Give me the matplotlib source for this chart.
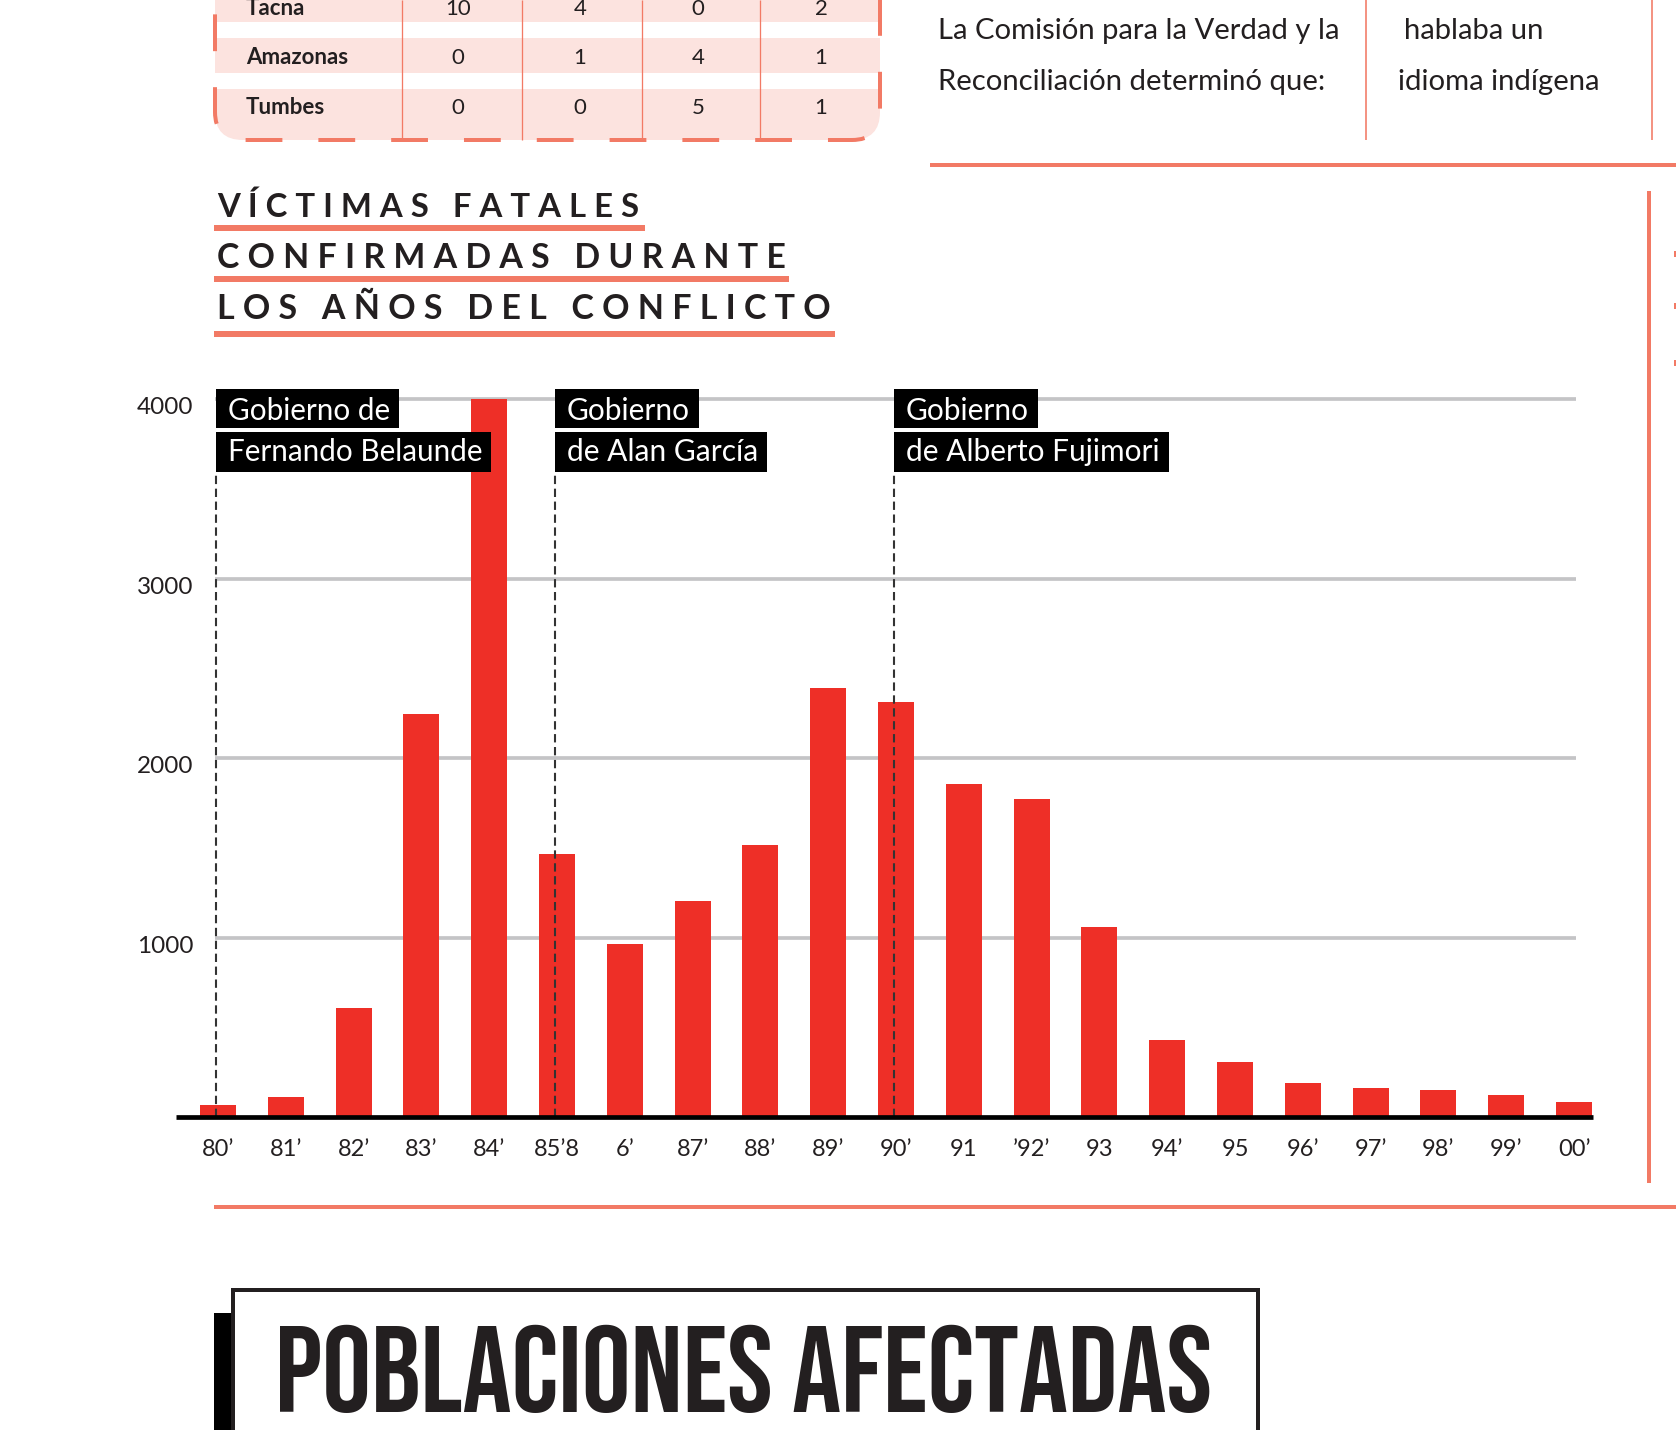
import os
import matplotlib
matplotlib.use("Agg")
import matplotlib.pyplot as plt
from matplotlib import font_manager as fm
from matplotlib.patches import Rectangle, FancyBboxPatch
from matplotlib.lines import Line2D
from matplotlib.transforms import Affine2D, ScaledTranslation

# ---------------- data ----------------
years = ["80’", "81’", "82’", "83’", "84’", "85’8", "6’", "87’", "88’", "89’", "90’",
         "91", "’92’", "93", "94’", "95", "96’", "97’", "98’", "99’", "00’"]
victims = [67, 113, 607, 2243, 4000, 1464, 964, 1205, 1515, 2390, 2313,
           1857, 1774, 1059, 429, 308, 188, 159, 153, 125, 84]
ytick_vals = [1000, 2000, 3000, 4000]
ytick_labels = ["1000", "2000", "3000", "4000"]
gov_labels = [["Gobierno de", "Fernando Belaunde"],
              ["Gobierno", "de Alan García"],
              ["Gobierno", "de Alberto Fujimori"]]
gov_start = [0, 5, 10]
title_lines = ["VÍCTIMAS FATALES", "CONFIRMADAS DURANTE", "LOS AÑOS DEL CONFLICTO"]
table_rows = ["Tacna", "Amazonas", "Tumbes"]
table_vals = [[10, 4, 0, 2], [0, 1, 4, 1], [0, 0, 5, 1]]
intro_left = ["La Comisión para la Verdad y la", "Reconciliación determinó que:"]
intro_right = ["hablaba un", "idioma indígena"]
section_title = "POBLACIONES AFECTADAS"

# ---------------- style ----------------
W, H, DPI = 1676, 1430, 100
RED = "#EE2F27"
SALMON = "#F27A65"
PINK = "#FCE3DF"
GRID = "#C4C4C6"
DARK = "#231F20"

files = {os.path.basename(f.fname).lower(): f.fname for f in fm.fontManager.ttflist}


def find_font(names):
    for n in names:
        if n.lower() in files:
            return files[n.lower()]
    return None


cond_bold = find_font(["Oswald-Bold.ttf", "BebasNeue-Regular.ttf", "Anton-Regular.ttf",
                       "NotoSans-ExtraCondensedBold.ttf", "NotoSans-CondensedBold.ttf",
                       "LiberationSansNarrow-Bold.ttf", "DejaVuSansCondensed-Bold.ttf"])

fig = plt.figure(figsize=(W / DPI, H / DPI), dpi=DPI)
fig.patch.set_facecolor("white")
R = fig.canvas.get_renderer()
PX = Affine2D().scale(1.0 / W, -1.0 / H).translate(0, 1) + fig.transFigure


def fit_width(t, target, maxsize=None):
    w = t.get_window_extent(renderer=R).width
    s = t.get_fontsize() * target / w
    if maxsize is not None:
        s = min(s, maxsize)
    t.set_fontsize(s)
    return s


def hline(x0, x1, y, lw_px, color):
    fig.add_artist(Line2D([x0, x1], [y, y], transform=PX, color=color,
                          lw=lw_px * 72 / DPI, solid_capstyle="butt"))


def vline(x, y0, y1, lw_px, color):
    fig.add_artist(Line2D([x, x], [y0, y1], transform=PX, color=color,
                          lw=lw_px * 72 / DPI, solid_capstyle="butt"))


# ---------------- top table fragment ----------------
fig.add_artist(FancyBboxPatch((215, -90), 665, 230, boxstyle="round,pad=0,rounding_size=28",
                              transform=PX, fc=PINK, ec="none", zorder=1))
for y0, y1 in [(22, 38), (73, 89)]:
    fig.add_artist(Rectangle((212, y0), 672, y1 - y0, transform=PX, fc="white", ec="none", zorder=2))
fig.add_artist(FancyBboxPatch((215, -90), 665, 230, boxstyle="round,pad=0,rounding_size=28",
                              transform=PX, fc="none", ec=SALMON, lw=4 * 72 / DPI,
                              linestyle=(0, (9.2, 9.0)), zorder=3))
for xd in [402, 521.5, 642, 759.5]:
    vline(xd, 0, 140, 1.3, SALMON)
row_base = [15, 64, 114]
col_x = [458, 580, 698, 821]
for r, name in enumerate(table_rows):
    fig.text(246, row_base[r], name, transform=PX, fontfamily="Lato", fontweight="bold",
             fontsize=16, color=DARK, va="baseline", ha="left", zorder=4)
    for c, v in enumerate(table_vals[r]):
        fig.text(col_x[c], row_base[r], str(v), transform=PX, fontfamily="Lato",
                 fontsize=16, color=DARK, va="baseline", ha="center", zorder=4)

# ---------------- intro text (top right) ----------------
vline(1366, 0, 140, 1.6, SALMON)
vline(1652, 0, 140, 1.6, SALMON)
hline(930, W, 165, 4, SALMON)
t1 = fig.text(938, 39, intro_left[0], transform=PX, fontfamily="Lato", fontsize=20,
              color=DARK, va="baseline", ha="left")
s_intro = fit_width(t1, 402, maxsize=22)
fig.text(938, 90, intro_left[1], transform=PX, fontfamily="Lato", fontsize=s_intro,
         color=DARK, va="baseline", ha="left")
fig.text(1404, 39, intro_right[0], transform=PX, fontfamily="Lato", fontsize=s_intro,
         color=DARK, va="baseline", ha="left")
fig.text(1398, 90, intro_right[1], transform=PX, fontfamily="Lato", fontsize=s_intro,
         color=DARK, va="baseline", ha="left")

# ---------------- right border ----------------
vline(1649, 191, 1183, 4, SALMON)
for ym in [254, 306, 363]:
    fig.add_artist(Rectangle((1674, ym - 3), 2, 6, transform=PX, fc=SALMON, ec="none"))

# ---------------- chart title ----------------
title_base = [217, 268, 319]
title_end = [639, 786, 833]
under_y = [228, 279, 334]
under_end = [645, 789, 835]
for i, line in enumerate(title_lines):
    spaced = "   ".join(" ".join(list(w)) for w in line.split(" "))
    t = fig.text(217, title_base[i], spaced, transform=PX, fontfamily="Lato",
                 fontweight="bold", fontsize=24, color=DARK, va="baseline", ha="left")
    fit_width(t, title_end[i] - 217, maxsize=27)
    hline(214, under_end[i], under_y[i], 6, SALMON)

# ---------------- main chart ----------------
x0_px, dx_px = 218.0, 67.8
zero_px, ppu = 1117.0, (1117.0 - 399.0) / 4000.0
ax_l, ax_r, ax_t, ax_b = 200.0, 1593.0, 340.0, 1117.0
ax = fig.add_axes([ax_l / W, 1 - ax_b / H, (ax_r - ax_l) / W, (ax_b - ax_t) / H])
ax.set_facecolor("none")
ax.set_xlim((ax_l - x0_px) / dx_px, (ax_r - x0_px) / dx_px)
ax.set_ylim(0, (zero_px - ax_t) / ppu)
for sp in ax.spines.values():
    sp.set_visible(False)

xs = list(range(len(years)))
ax.hlines(ytick_vals, (215 - x0_px) / dx_px, (1576 - x0_px) / dx_px, colors=GRID,
          lw=3.7 * 72 / DPI, zorder=1)
ax.bar(xs, victims, width=0.53, color=RED, zorder=2)
ax.plot([(176 - x0_px) / dx_px, (1593 - x0_px) / dx_px], [0, 0], color="black",
        lw=4.7 * 72 / DPI, solid_capstyle="butt", clip_on=False, zorder=4)

ax.set_xticks(xs)
ax.set_xticklabels(years, fontfamily="Lato", fontsize=17, color=DARK)
ax.set_yticks(ytick_vals)
ax.set_yticklabels(ytick_labels, fontfamily="Lato", fontsize=17.5, color=DARK)
ax.tick_params(axis="x", length=0, pad=15.5)
ax.tick_params(axis="y", length=0, pad=5)
yoff = ScaledTranslation(0, -5.0 / 72, fig.dpi_scale_trans)
for lbl in ax.get_yticklabels():
    lbl.set_transform(lbl.get_transform() + yoff)

dash_top_val = (zero_px - 472) / ppu
for gi, idx in enumerate(gov_start):
    xd = idx - 0.03
    ax.plot([xd, xd], [0, dash_top_val], color="#333333", lw=1.5,
            linestyle=(0, (4.0, 2.2)), zorder=3)
    box_l = x0_px + dx_px * xd
    lines = gov_labels[gi]
    texts = []
    for li, s in enumerate(lines):
        tt = fig.text(box_l + 12, [420, 461][li], s, transform=PX, fontfamily="Lato",
                      fontsize=21.5, color="white", va="baseline", ha="left", zorder=6)
        texts.append(tt)
    target = [255, 192, 259][gi]
    wmax = max(t.get_window_extent(renderer=R).width for t in texts)
    size = min(21.5, 21.5 * target / wmax)
    for tt in texts:
        tt.set_fontsize(size)
    for li, tt in enumerate(texts):
        wr = tt.get_window_extent(renderer=R).width
        yb = [(389, 428), (432, 472)][li]
        fig.add_artist(Rectangle((box_l, yb[0]), 12 + wr + 9, yb[1] - yb[0], transform=PX,
                                 fc="black", ec="none", zorder=5))

# ---------------- bottom section ----------------
hline(214, W, 1207, 4, SALMON)
fig.add_artist(Rectangle((214, 1313), 1030, 200, transform=PX, fc="black", ec="none", zorder=1))
fig.add_artist(Rectangle((233, 1290), 1025, 200, transform=PX, fc="white", ec=DARK,
                         lw=4 * 72 / DPI, zorder=2))
if cond_bold:
    tb = fig.text(275, 1412, section_title, transform=PX,
                  fontproperties=fm.FontProperties(fname=cond_bold, size=80),
                  color=DARK, va="baseline", ha="left", zorder=3)
else:
    tb = fig.text(275, 1412, section_title, transform=PX, fontfamily="DejaVu Sans",
                  fontweight="bold", fontsize=80, color=DARK, va="baseline", ha="left", zorder=3)
fit_width(tb, 949, maxsize=88)

fig.savefig("out.png", dpi=DPI, facecolor="white")
